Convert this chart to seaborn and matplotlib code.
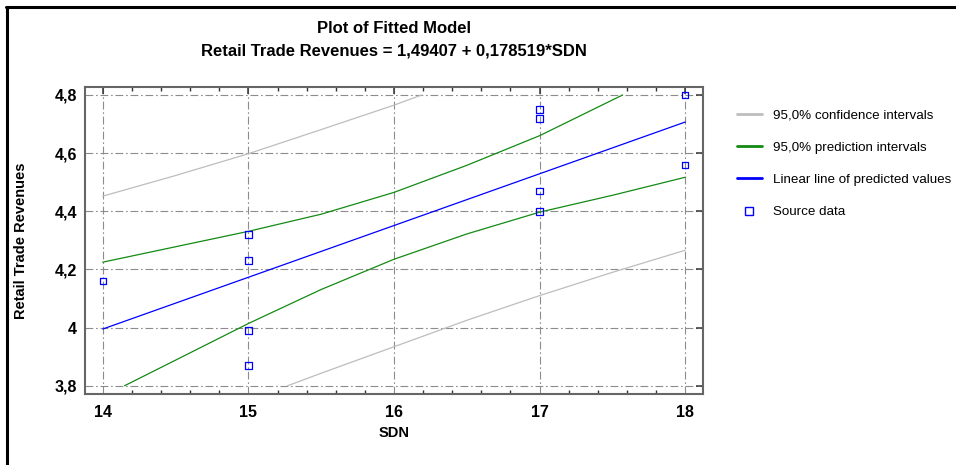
#!/usr/bin/env python
# coding: utf-8

import matplotlib
matplotlib.use("Agg")
import matplotlib.pyplot as plt
from matplotlib.lines import Line2D
from matplotlib.ticker import MultipleLocator, FixedLocator
import seaborn as sns

# Source data (SDN vs Retail Trade Revenues)
sdn = [14, 15, 15, 15, 15, 17, 17, 17, 17, 18, 18]
revenues = [4.16, 4.32, 4.23, 3.99, 3.87, 4.75, 4.72, 4.47, 4.40, 4.80, 4.56]

# Fitted line
fit_x = [14, 18]
fit_y = [3.995, 4.707]

# Outer (gray) band
gray_up_x = [14, 14.5, 15, 15.5, 16, 16.19]
gray_up_y = [4.452, 4.523, 4.598, 4.681, 4.765, 4.80]
gray_lo_x = [15.27, 15.5, 16, 16.5, 17, 17.5, 18]
gray_lo_y = [3.80, 3.843, 3.934, 4.025, 4.11, 4.19, 4.266]

# Inner (green) band
green_up_x = [14, 14.5, 15, 15.5, 16, 16.5, 17, 17.57]
green_up_y = [4.225, 4.278, 4.331, 4.39, 4.465, 4.558, 4.66, 4.80]
green_lo_x = [14.15, 14.5, 15, 15.5, 16, 16.5, 17, 17.5, 18]
green_lo_y = [3.80, 3.888, 4.014, 4.131, 4.235, 4.322, 4.397, 4.455, 4.517]

labels = ["95,0% confidence intervals", "95,0% prediction intervals",
          "Linear line of predicted values", "Source data"]

GRAY = "#bdbdbd"
GREEN = "#138a13"
BLUE = "#0000ff"

sns.set_style("white")
plt.rcParams["font.family"] = ["Liberation Sans", "DejaVu Sans"]
plt.rcParams["text.color"] = "black"
plt.rcParams["axes.labelcolor"] = "black"
plt.rcParams["xtick.color"] = "black"
plt.rcParams["ytick.color"] = "black"

fig = plt.figure(figsize=(9.56, 4.65), dpi=100)
ax = fig.add_axes([85.3 / 956, 1 - 394 / 465, (702.7 - 85.3) / 956, (394 - 86.7) / 465])

for xs, ys, col in [(gray_up_x, gray_up_y, GRAY), (gray_lo_x, gray_lo_y, GRAY),
                    (green_up_x, green_up_y, GREEN), (green_lo_x, green_lo_y, GREEN),
                    (fit_x, fit_y, BLUE)]:
    sns.lineplot(x=xs, y=ys, color=col, linewidth=0.9, sort=False,
                 estimator=None, ax=ax, zorder=3)

sns.scatterplot(x=sdn, y=revenues, marker="s", s=22, facecolor="none",
                edgecolor=BLUE, linewidth=0.9, ax=ax, zorder=4)

ax.set_xlim(13.88, 18.12)
ax.set_ylim(3.7715, 4.8285)
ax.xaxis.set_major_locator(FixedLocator([14, 15, 16, 17, 18]))
ax.xaxis.set_minor_locator(MultipleLocator(0.2))
ax.yaxis.set_major_locator(FixedLocator([3.8, 4.0, 4.2, 4.4, 4.6, 4.8]))
ax.set_yticklabels(["3,8", "4", "4,2", "4,4", "4,6", "4,8"])
ax.set_xticklabels(["14", "15", "16", "17", "18"])

ax.tick_params(axis="both", which="major", direction="in", length=5, width=1.1,
               color="#333333", top=True, right=True, labelsize=11.5)
ax.tick_params(axis="x", which="minor", direction="in", length=3, width=1,
               color="#333333", top=True, bottom=True)
ax.tick_params(axis="x", pad=8)
ax.tick_params(axis="y", pad=6)
for lab in ax.get_xticklabels() + ax.get_yticklabels():
    lab.set_fontweight("bold")

ax.grid(True, which="major", color="#8c8c8c", linewidth=0.8,
        linestyle=(0, (7, 2.5, 1.5, 2.5)))
for sp in ax.spines.values():
    sp.set_color("#666666")
    sp.set_linewidth(1.5)

ax.set_xlabel("SDN", fontsize=10.5, fontweight="bold", labelpad=4)
ax.set_ylabel("Retail Trade Revenues", fontsize=10.5, fontweight="bold")
ax.yaxis.set_label_coords(-0.093, 0.5)

fig.text(394 / 956, 1 - 33 / 465, "Plot of Fitted Model", ha="center",
         va="baseline", fontsize=12, fontweight="bold")
fig.text(394 / 956, 1 - 55 / 465, "Retail Trade Revenues = 1,49407 + 0,178519*SDN",
         ha="center", va="baseline", fontsize=12, fontweight="bold")

handles = [Line2D([], [], color=GRAY, linewidth=2),
           Line2D([], [], color=GREEN, linewidth=2),
           Line2D([], [], color=BLUE, linewidth=2),
           Line2D([], [], color=BLUE, marker="s", markerfacecolor="none",
                  markersize=6, linestyle="none")]
fig.legend(handles, labels, loc="upper left",
           bbox_to_anchor=(737 / 956, 1 - 109 / 465), frameon=False,
           fontsize=9.6, handlelength=1.85, handletextpad=0.85,
           labelspacing=1.5, borderpad=0, borderaxespad=0)

# partial outer frame, as in the screenshot
fig.add_artist(Line2D([7 / 956, 7 / 956], [0, 1 - 7 / 465], color="black",
                      linewidth=2.2, transform=fig.transFigure))
fig.add_artist(Line2D([6 / 956, 1], [1 - 7 / 465, 1 - 7 / 465], color="black",
                      linewidth=2.2, transform=fig.transFigure))

fig.savefig("out.png", dpi=100)
